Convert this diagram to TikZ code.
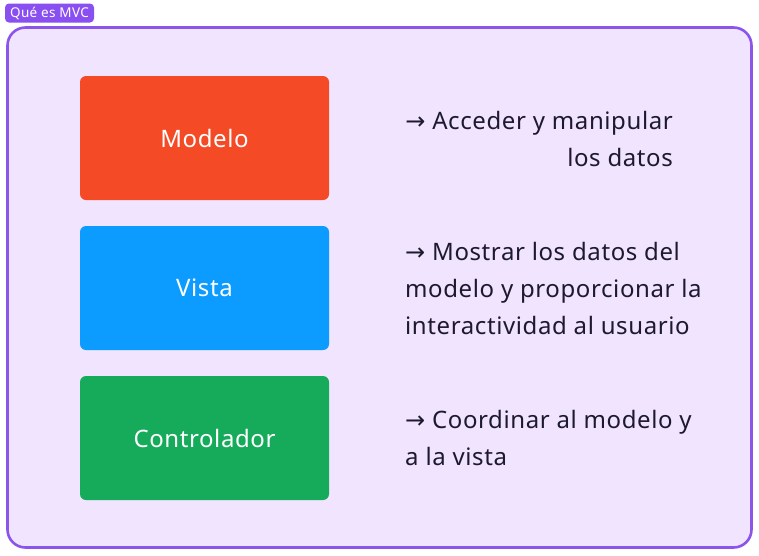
\documentclass[tikz,border=0pt]{standalone}
\usepackage{fontspec}
\setmainfont{Noto Sans}[LetterSpace=2.5]
\newfontfamily\arr{DejaVu Sans}
\definecolor{frameC}{HTML}{8B55EC}
\definecolor{frameF}{HTML}{F1E4FE}
\definecolor{tagC}{HTML}{8A4FF0}
\definecolor{modC}{HTML}{F44A25}
\definecolor{visC}{HTML}{0C9BFF}
\definecolor{conC}{HTML}{16AB5A}
\definecolor{txtC}{HTML}{1E1A2E}
\begin{document}
\begin{tikzpicture}[x=1pt,y=-1pt,
  mvcbox/.style={draw=none,rounded corners=6pt,minimum width=249pt,minimum height=124pt,text=white,font=\fontsize{24}{28}\selectfont},
  desc/.style={text=txtC,font=\fontsize{24}{28}\selectfont,inner sep=0pt}]
\useasboundingbox (0,0) rectangle (759,555);
\fill[white] (0,0) rectangle (759,555);
\node[draw=frameC,line width=2.6pt,fill=frameF,rounded corners=18pt,minimum width=744pt,minimum height=520pt,inner sep=0pt] (frame) at (379.5,287.5) {};
\node[fill=tagC,rounded corners=4pt,text=white,font=\fontsize{13.5}{15}\selectfont,minimum width=89pt,minimum height=19pt,inner sep=0pt] (tag) at (49.5,13) {Qué es MVC};
\node[mvcbox,fill=modC] (modelo) at (204.5,138) {Modelo};
\node[mvcbox,fill=visC] (vista) at (204.5,288) {Vista};
\node[mvcbox,fill=conC] (control) at (204.5,438) {Controlador};
\node[desc,anchor=base east] (dm1) at (673,129) {{\arr→} Acceder y manipular};
\node[desc,anchor=base east] (dm2) at (673,166) {los datos};
\node[desc,anchor=base west] (dv1) at (405,260) {{\arr→} Mostrar los datos del};
\node[desc,anchor=base west] (dv2) at (405,297) {modelo y proporcionar la};
\node[desc,anchor=base west] (dv3) at (405,334) {interactividad al usuario};
\node[desc,anchor=base west] (dc1) at (405,428) {{\arr→} Coordinar al modelo y};
\node[desc,anchor=base west] (dc2) at (405,465) {a la vista};
\end{tikzpicture}
\end{document}
